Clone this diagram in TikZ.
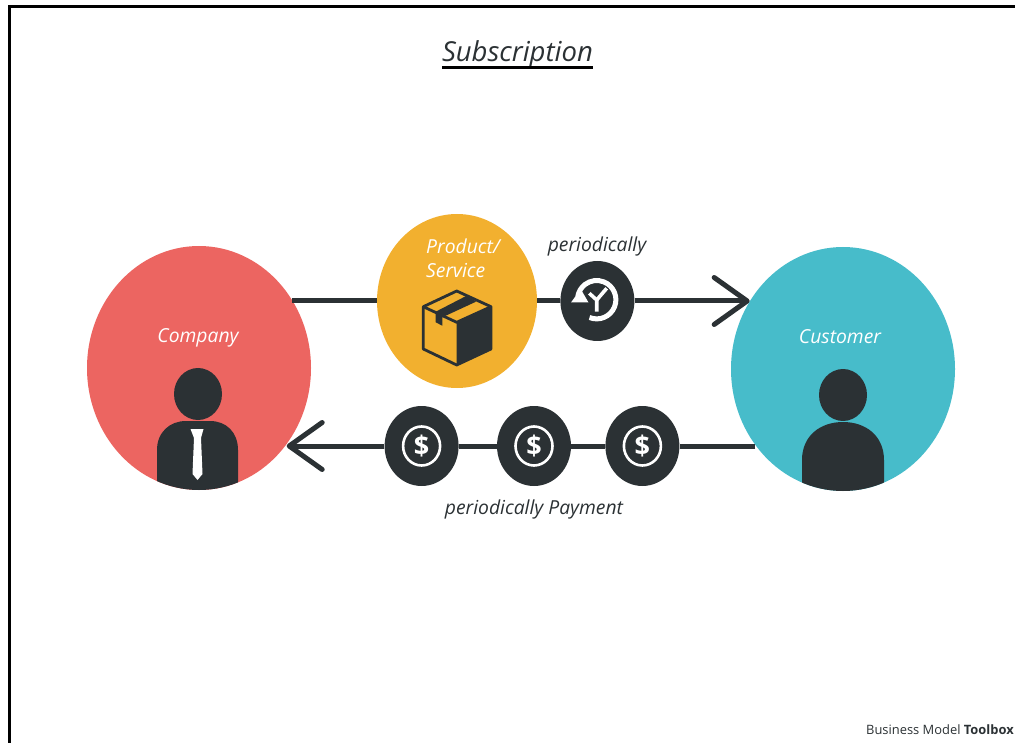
\documentclass[tikz,border=0pt]{standalone}
\usepackage{fontspec}
\setmainfont{Open Sans}
\usepackage{tikz}
\usetikzlibrary{arrows.meta,positioning,shapes.geometric}
\definecolor{inkdark}{HTML}{2B3134}
\definecolor{companyred}{HTML}{EC6561}
\definecolor{productyellow}{HTML}{F2B02F}
\definecolor{customerteal}{HTML}{47BCCA}
\newcommand{\titleline}[1]{\vbox{\hbox{#1}\kern-2pt{\color{black}\hrule height 3pt}}}

\begin{document}
\begin{tikzpicture}[
x=1pt, y=-1pt,
party/.style={ellipse, inner sep=0pt, minimum width=224pt, minimum height=244pt},
product/.style={ellipse, fill=productyellow, inner sep=0pt, minimum width=160pt, minimum height=174pt},
token/.style={ellipse, fill=inkdark, inner sep=0pt, minimum width=74pt, minimum height=80pt},
coin/.style={token, text=white, font=\fontsize{27}{30}\selectfont\bfseries},
caption/.style={inner sep=0pt, text=inkdark, font=\fontsize{19.3}{23}\selectfont\itshape},
whitecaption/.style={caption, text=white},
flow/.style={draw=inkdark, line width=5pt},
barb/.style={-{Straight Barb[length=33pt, width=47pt, line width=5pt, round]}},
ring/.style={draw=white, line width=2.6pt},
icon/.style={fill=inkdark},
]
\useasboundingbox (0,0) rectangle (1015,743);
\draw[line width=3pt, line cap=butt] (9.5,743) -- (9.5,6.5) -- (1015,6.5);

%Nodes
\node[party, fill=companyred]   (company)  at (199,368) {};
\node[party, fill=customerteal] (customer) at (843,369) {};
\node[product]                  (service)  at (457,301) {};
\node[token]                    (clock)    [right=23pt of service] {};
\node[coin]                     (coinb)    at (534,446) {\$};
\node[coin]                     (coina)    [left=38pt of coinb]  {\$};
\node[coin]                     (coinc)    [right=34pt of coinb] {\$};

%Lines
\draw[flow] (company.36 |- service.west) -- (service.west);
\draw[flow] (service.east) -- (clock.west);
\draw[flow, barb] (clock.east) -- (customer.144 |- clock.east);
\draw[flow] (customer.-139 |- coinc.east) -- (coinc.east);
\draw[flow] (coinc.west) -- (coinb.east);
\draw[flow] (coinb.west) -- (coina.east);
\draw[flow, barb] (coina.west) -- (company.-41 |- coina.west);

%Labels
\node[inner sep=0pt, font=\fontsize{27.5}{30}\selectfont\itshape, text=inkdark] (title) at (517.5,55) {\titleline{Subscription}};
\node[whitecaption] (companylabel)  at (198,338) {Company};
\node[whitecaption] (customerlabel) at (840,337) {Customer};
\node[whitecaption, anchor=west] (productlabel) at (426,246) {Product/};
\node[whitecaption, anchor=west] (servicelabel) at (426,271) {Service};
\node[caption] (clocklabel) at (597,246) {periodically};
\node[caption] (paylabel)   at (534,509) {periodically Payment};
\node[inner sep=0pt, anchor=west, text=inkdark, font=\fontsize{12.9}{15}\selectfont] (brand) at (866,729.5) {Business Model \textbf{Toolbox}};

%Company icon
\begin{scope}
\clip (company.center) ellipse [x radius=112, y radius=122];
\fill[icon] (198,394) ellipse [x radius=24, y radius=26];
\fill[icon] (157,495) -- (157,450) .. controls (157,432) and (170,421) .. (186,421) -- (210,421) .. controls (226,421) and (238,432) .. (238,450) -- (238,495) -- cycle;
\end{scope}
\fill[white] (190.5,429) -- (203.5,429) -- (201,438) -- (202.5,474) -- (197.5,480) -- (192.5,474) -- (194,438) -- cycle;

%Customer icon
\begin{scope}
\clip (customer.center) ellipse [x radius=112, y radius=122];
\fill[icon] (843,395) ellipse [x radius=24, y radius=26];
\fill[icon] (802,495) -- (802,460) .. controls (802,436) and (820,422) .. (843,422) .. controls (866,422) and (884,436) .. (884,460) -- (884,495) -- cycle;
\end{scope}

%Box icon
\draw[inkdark, line width=2.8pt, line join=round] (456.7,291) -- (423.3,306.7) -- (423.3,349) -- (456.7,365) -- (491,349) -- (491,306.7) -- cycle;
\draw[inkdark, line width=2.8pt, line join=round] (423.3,306.7) -- (456.7,322.3) -- (491,306.7);
\fill[icon] (456.7,322.3) -- (491,306.7) -- (491,349) -- (456.7,365) -- cycle;
\fill[icon] (466.7,295.7) -- (435.7,311.7) -- (435.7,322.3) -- (442.3,325.7) -- (442.3,317.3) -- (476,301.7) -- cycle;

%Clock icon
\draw[white, line width=5pt] (596.7,299.7) ++(112:19.2) arc [start angle=112, end angle=-170, radius=19.2];
\fill[white] (571,302.5) -- (588.5,302.5) -- (580.7,289) -- cycle;
\draw[white, line width=3.6pt, line join=round] (596.7,311.7) -- (596.7,300) -- (589.3,293.3);
\draw[white, line width=3.6pt] (596.7,300) -- (606.7,288.3);

%Coin rings
\draw[ring] (coina.center) ellipse [x radius=18.5, y radius=19.5];
\draw[ring] (coinb.center) ellipse [x radius=18.5, y radius=19.5];
\draw[ring] (coinc.center) ellipse [x radius=18.5, y radius=19.5];
\end{tikzpicture}
\end{document}
